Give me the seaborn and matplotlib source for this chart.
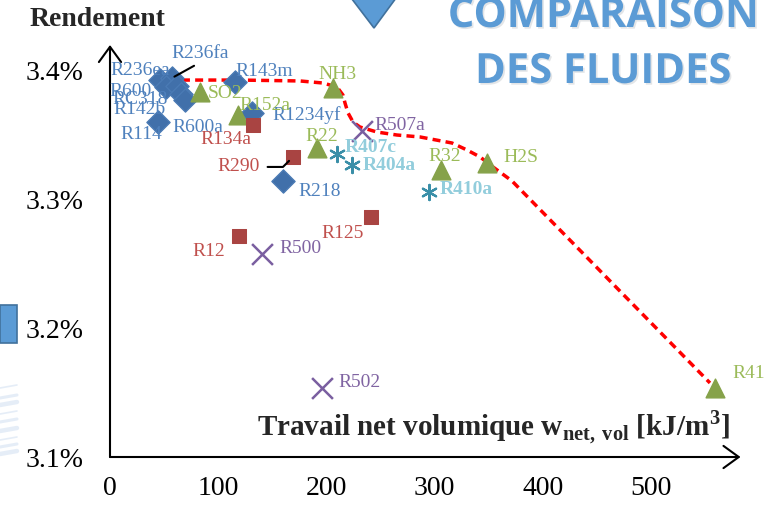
import matplotlib
matplotlib.use("Agg")
import matplotlib.pyplot as plt
import matplotlib.patheffects as pe
from matplotlib.patches import Polygon, Rectangle
from matplotlib.ticker import FuncFormatter
import seaborn as sns

# fluides - travail net volumique [kJ/m3] et rendement [%]
bleu_noms = ["R236ea", "R236fa", "R600", "RC318", "R142b", "R600a", "R114", "R143m", "R1234yf", "R218"]
bleu_x = [46.2, 57.3, 51.8, 61.9, 65.6, 69.3, 44.4, 115.5, 131.2, 159.9]
bleu_y = [3.3922, 3.3938, 3.3868, 3.3876, 3.3814, 3.3767, 3.3597, 3.3907, 3.3667, 3.3140]

vert_noms = ["SO2", "R152a", "NH3", "R22", "R32", "H2S", "R41"]
vert_x = [83.2, 118.3, 206.1, 191.3, 305.9, 348.4, 559.2]
vert_y = [3.3829, 3.3651, 3.3860, 3.3395, 3.3225, 3.3279, 3.1535]

rouge_noms = ["R134a", "R290", "R12", "R125"]
rouge_x = [132.2, 169.1, 119.2, 241.2]
rouge_y = [3.3574, 3.3326, 3.2713, 3.2860]

violet_noms = ["R507a", "R500", "R502"]
violet_x = [232.9, 140.5, 195.9]
violet_y = [3.3527, 3.2574, 3.1535]

cyan_noms = ["R407c", "R404a", "R410a"]
cyan_x = [209.8, 223.7, 294.8]
cyan_y = [3.3349, 3.3264, 3.3054]

# front (ligne pointillee rouge)
front_x = [66.5, 120.1, 175.6, 196.9, 209.8, 215.3, 217.2, 220.0, 224.6, 231.0, 246.8,
           265.2, 286.5, 316.1, 329.9, 342.0, 354.0, 371.5, 554.5]
front_y = [3.3922, 3.3922, 3.3915, 3.3899, 3.3868, 3.3806, 3.3744, 3.3667, 3.3597, 3.3558,
           3.3519, 3.3496, 3.3481, 3.3434, 3.3380, 3.3326, 3.3248, 3.3140, 3.1574]

x_ticks = [0, 100, 200, 300, 400, 500]
y_ticks = [3.1, 3.2, 3.3, 3.4]

# decalage des etiquettes (pixels)
decalages = {
    "R236ea": (-20, 10), "R236fa": (28, 24), "R600": (-36, -4), "RC318": (-37, -14),
    "R142b": (-41, -16), "R600a": (13, -27), "R114": (-17, -13), "R143m": (29, 10),
    "R1234yf": (55, -2), "R218": (37, -11),
    "SO2": (25, -1), "R152a": (27, 10), "NH3": (4, 14), "R22": (5, 12), "R32": (4, 13),
    "H2S": (34, 6), "R41": (34, 14),
    "R134a": (-27, -15), "R290": (-54, -10), "R12": (-30, -15), "R125": (-28, -16),
    "R507a": (38, 6), "R500": (38, 5), "R502": (38, 5),
    "R407c": (34, 6), "R404a": (37, -1), "R410a": (37, 3),
}

sns.set_style("white")
plt.rcParams["font.family"] = ["Liberation Serif", "DejaVu Serif"]
plt.rcParams["mathtext.fontset"] = "custom"
plt.rcParams["mathtext.rm"] = "Liberation Serif"
plt.rcParams["mathtext.bf"] = "Liberation Serif:bold"

fig = plt.figure(figsize=(7.69, 5.05), dpi=100)
ax = fig.add_axes([110 / 769, 48 / 505, 628 / 769, 412 / 505])

sns.lineplot(x=front_x, y=front_y, sort=False, color="#FF0000", lw=2.5, ax=ax, zorder=2)
ax.lines[-1].set_linestyle((0, (2.3, 1.5)))

sns.scatterplot(x=bleu_x, y=bleu_y, marker="D", s=140, color="#4170AA", edgecolor="#4A7AB4", ax=ax, zorder=3)
sns.scatterplot(x=vert_x, y=vert_y, marker="^", s=180, color="#86A24A", edgecolor="#86A24A", ax=ax, zorder=3)
sns.scatterplot(x=rouge_x, y=rouge_y, marker="s", s=88, color="#A94442", edgecolor="#A94442", ax=ax, zorder=3)
sns.scatterplot(x=violet_x, y=violet_y, marker="x", s=225, color="#7A5FA0", linewidth=1.8, ax=ax, zorder=3)
sns.scatterplot(x=cyan_x, y=cyan_y, marker=(6, 2, 0), s=120, color="#3A8FA8", linewidth=1.6, ax=ax, zorder=3)

groupes = [
    (bleu_noms, bleu_x, bleu_y, "#4F81BD", "normal"),
    (vert_noms, vert_x, vert_y, "#9BBB59", "normal"),
    (rouge_noms, rouge_x, rouge_y, "#C0504D", "normal"),
    (violet_noms, violet_x, violet_y, "#8064A2", "normal"),
    (cyan_noms, cyan_x, cyan_y, "#92CDDC", "bold"),
]
for noms, xs, ys, coul, poids in groupes:
    for n, xv, yv in zip(noms, xs, ys):
        arrow = None
        if n == "R236fa":
            arrow = dict(arrowstyle="-", color="black", lw=1.5, shrinkA=0, shrinkB=2, relpos=(0.5, 0))
        elif n == "R290":
            arrow = dict(arrowstyle="-", color="black", lw=1.5, shrinkA=3, shrinkB=4, relpos=(1, 0.5),
                         connectionstyle="angle,angleA=0,angleB=45,rad=0")
        ax.annotate(n, xy=(xv, yv), xytext=decalages[n], textcoords="offset pixels",
                    ha="center", va="center", fontsize=14, color=coul, fontweight=poids,
                    arrowprops=arrow, zorder=4)

ax.set_xlim(0, 628 / 1.082)
ax.set_ylim(3.1, 3.1 + 412 / 1290)
ax.set_xticks(x_ticks)
ax.set_yticks(y_ticks)
ax.yaxis.set_major_formatter(FuncFormatter(lambda v, p: f"{v:.1f}%"))
ax.tick_params(axis="both", direction="out", length=6, width=1.5, labelsize=20, colors="black")
ax.tick_params(axis="y", pad=13)
ax.tick_params(axis="x", pad=8)
for s in ax.spines.values():
    s.set_visible(False)
ax.set_facecolor("none")

fleche = dict(arrowstyle="->,head_length=0.55,head_width=0.4", lw=1.5, color="black",
              shrinkA=0, shrinkB=0, mutation_scale=20)
ax.annotate("", xy=(0, 1), xytext=(0, 0), xycoords="axes fraction", arrowprops=fleche, annotation_clip=False)
ax.annotate("", xy=(1.004, 0), xytext=(0, 0), xycoords="axes fraction", arrowprops=fleche, annotation_clip=False)

fig.text(98 / 769, 1 - 19 / 505, "Rendement", ha="center", va="center", fontsize=20, fontweight="bold")
fig.text(493 / 769, 1 - 436 / 505,
         r"Travail net volumique w$_{\mathbf{net,}\,\mathbf{vol}}$ [kJ/m$^{\mathbf{3}}$]",
         ha="center", va="baseline", fontsize=21, fontweight="bold")

# decor de la diapositive
ombre = [pe.withSimplePatchShadow(offset=(1.2, -1.2), alpha=0.12)]
fig.text(603 / 769, 1 - 27 / 505, "COMPARAISON", ha="center", va="baseline", fontsize=30,
         fontweight="bold", family="Open Sans", color="#5B9BD5", path_effects=ombre)
fig.text(603 / 769, 1 - 83 / 505, "DES FLUIDES", ha="center", va="baseline", fontsize=30,
         fontweight="bold", family="Open Sans", color="#5B9BD5", path_effects=ombre)
fig.patches.append(Polygon([(345 / 769, 1.02), (402 / 769, 1.02), (374 / 769, 1 - 28 / 505)],
                           closed=True, transform=fig.transFigure, facecolor="#5B9BD5",
                           edgecolor="#41719C", lw=1.2))
fig.patches.append(Rectangle((0, 1 - 343 / 505), 17 / 769, 38 / 505, transform=fig.transFigure,
                             facecolor="#5B9BD5", edgecolor="#41719C", lw=1.2))
for i, yy in enumerate([388, 398, 405, 414, 422, 431, 440, 447, 454]):
    fig.lines.append(plt.Line2D([0, 17 / 769], [1 - yy / 505, 1 - (yy - 3) / 505],
                                transform=fig.transFigure, color="#A9C4E6", lw=1.2 + (i % 3),
                                alpha=0.3))

fig.savefig("out.png", dpi=100)
